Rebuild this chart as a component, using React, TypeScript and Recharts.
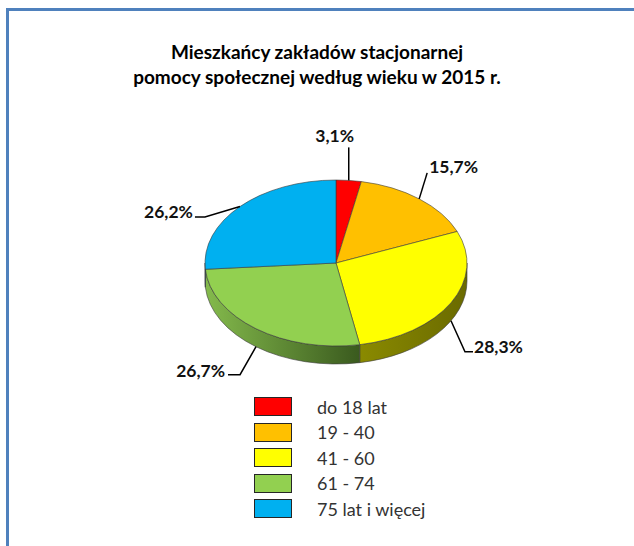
import React from "react"
import { PieChart, Pie, Cell, Legend } from "recharts"

const categories = ["do 18 lat", "19 - 40", "41 - 60", "61 - 74", "75 lat i więcej"]
const shares = [3.1, 15.7, 28.3, 26.7, 26.2]
const colors = ["#FF0000", "#FFC000", "#FFFF00", "#92D050", "#00B0F0"]
// side wall shading, light (left) -> dark (right)
const sideColors = [
  ["#B00000", "#700000"],
  ["#B08500", "#7A5C00"],
  ["#8A8A00", "#6A6A00"],
  ["#84BA4C", "#3A5A1E"],
  ["#0080B0", "#005A7E"],
]
const titleLines = ["Mieszkańcy zakładów stacjonarnej", "pomocy społecznej według wieku w 2015 r."]

const data = categories.map((name, i) => ({ name, value: shares[i] }))

const W = 634
const H = 546
const CX = 336
const CY = 263
const RX = 131
const TILT = 83 / 131
const DEPTH = 18

// leader line / text placement per label (relative to slice anchor)
const labelLayout = [
  { dx: 0, dy: -33, tail: 0, tx: -14, ty: -5, anchor: "middle" },
  { dx: 8, dy: -26, tail: 0, tx: 2, ty: 0.5, anchor: "start" },
  { dx: 14, dy: 31, tail: 8, tx: 1, ty: 1, anchor: "start" },
  { dx: -16, dy: 28, tail: -12, tx: -3, ty: 2, anchor: "end" },
  { dx: -35, dy: 10.5, tail: -10, tx: -2, ty: 1, anchor: "end" },
]

const fmt = (v: number) => v.toFixed(1).replace(".", ",") + "%"

function pt(cx: number, cy: number, rx: number, ry: number, deg: number) {
  const r = (deg * Math.PI) / 180
  return [cx + rx * Math.cos(r), cy - ry * Math.sin(r)]
}

function Slice3D(props: any) {
  const { cx, cy, outerRadius, startAngle, endAngle, fill } = props
  const rx = outerRadius
  const ry = outerRadius * TILT
  const i = colors.indexOf(fill)
  const hi = Math.max(startAngle, endAngle)
  const lo = Math.min(startAngle, endAngle)
  const [sx, sy] = pt(cx, cy, rx, ry, hi)
  const [ex, ey] = pt(cx, cy, rx, ry, lo)
  const large = hi - lo > 180 ? 1 : 0
  const top = `M${cx},${cy} L${sx},${sy} A${rx},${ry} 0 ${large} 1 ${ex},${ey} Z`

  // front wall: angles where the rim faces the viewer
  const walls: string[] = []
  for (let k = -1; k <= 1; k++) {
    const a0 = Math.min(hi, k * 360)
    const a1 = Math.max(lo, k * 360 - 180)
    if (a0 > a1) {
      const [x0, y0] = pt(cx, cy, rx, ry, a0)
      const [x1, y1] = pt(cx, cy, rx, ry, a1)
      walls.push(
        `M${x0},${y0} A${rx},${ry} 0 0 1 ${x1},${y1} L${x1},${y1 + DEPTH} A${rx},${ry} 0 0 0 ${x0},${y0 + DEPTH} Z`
      )
    }
  }

  return (
    <g>
      {walls.map((d, k) => (
        <path key={k} d={d} fill={`url(#side-${i})`} stroke="#3a3a3a" strokeWidth={0.6} />
      ))}
      <path d={top} fill={fill} stroke="#3a3a3a" strokeWidth={0.6} />
    </g>
  )
}

function renderLabel(props: any) {
  const { cx, cy, midAngle, outerRadius, index, value } = props
  const lay = labelLayout[index]
  const rx = outerRadius
  const ry = outerRadius * TILT
  let [ax, ay] = pt(cx, cy, rx, ry, midAngle)
  if (Math.sin((midAngle * Math.PI) / 180) < 0) ay += DEPTH
  const bx = ax + lay.dx
  const by = ay + lay.dy
  const tx = bx + lay.tail
  return (
    <g>
      <polyline points={`${ax},${ay} ${bx},${by} ${tx},${by}`} fill="none" stroke="#000" strokeWidth={1.5} />
      <text
        x={tx + lay.tx}
        y={by + lay.ty}
        textAnchor={lay.anchor}
        fontFamily="Lato, sans-serif"
        fontWeight={700}
        fontSize={17.5}
        fill="#111"
      >
        {fmt(value)}
      </text>
    </g>
  )
}

// legend keeps the series order (Recharts would sort it by name)
function renderLegend() {
  return (
    <div style={{ fontFamily: "Lato, sans-serif" }}>
      {categories.map((name, i) => (
        <div key={name} style={{ display: "flex", alignItems: "center", height: 25.5 }}>
          <div
            style={{
              width: 36,
              height: 17,
              background: colors[i],
              border: "1px solid #262626",
              marginRight: 25,
            }}
          />
          <span style={{ fontSize: 18, color: "#333", lineHeight: "18px" }}>{name}</span>
        </div>
      ))}
    </div>
  )
}

export default function App() {
  return (
    <div style={{ position: "absolute", left: 0, top: 0, width: W, height: H, background: "#fff", overflow: "hidden" }}>
      <div
        style={{
          position: "absolute",
          left: 6,
          top: 8,
          width: W,
          height: H,
          borderLeft: "3px solid #4F81BD",
          borderTop: "3px solid #4F81BD",
        }}
      />
      <div
        style={{
          position: "absolute",
          left: 0,
          top: 40.4,
          width: W,
          textAlign: "center",
          fontFamily: "Lato, sans-serif",
          fontWeight: 700,
          fontSize: 19,
          lineHeight: "24.5px",
          color: "#000",
        }}
      >
        {titleLines.map((t) => (
          <div key={t}>{t}</div>
        ))}
      </div>
      <div style={{ position: "absolute", left: 0, top: 0 }}>
        <PieChart width={W} height={H} margin={{ top: 0, right: 0, bottom: 0, left: 0 }}>
          <defs>
            {sideColors.map(([a, b], i) => (
              <linearGradient key={i} id={`side-${i}`} x1="0" y1="0" x2="1" y2="0">
                <stop offset="0%" stopColor={a} />
                <stop offset="100%" stopColor={b} />
              </linearGradient>
            ))}
          </defs>
          <Pie
            data={data}
            dataKey="value"
            nameKey="name"
            cx={CX}
            cy={CY}
            outerRadius={RX}
            startAngle={90}
            endAngle={-270}
            shape={Slice3D}
            label={renderLabel}
            labelLine={false}
            isAnimationActive={false}
          >
            {data.map((d, i) => (
              <Cell key={d.name} fill={colors[i]} />
            ))}
          </Pie>
          <Legend
            layout="vertical"
            content={renderLegend}
            wrapperStyle={{ left: 254, top: 393.8, width: 220, bottom: "auto" }}
          />
        </PieChart>
      </div>
    </div>
  )
}
